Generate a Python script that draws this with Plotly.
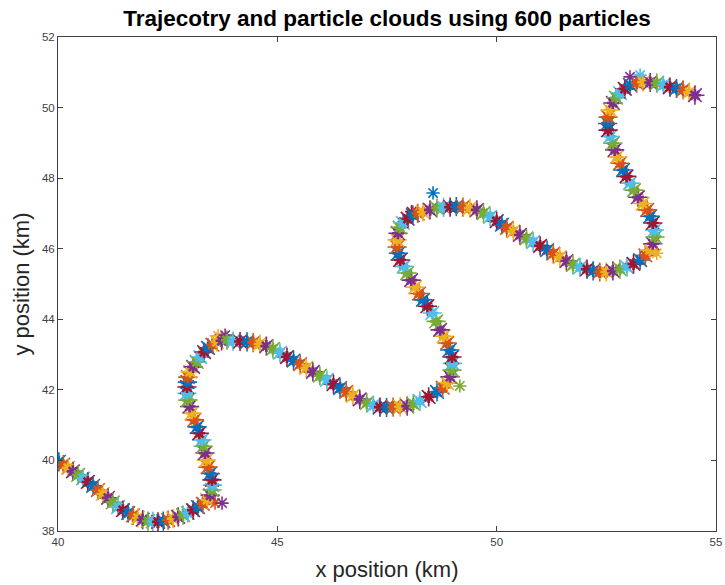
import plotly.graph_objects as go

# Trajectory (cloud centres), km
traj_x = [
    40.02, 40.12, 40.23, 40.34, 40.46, 40.57, 40.68, 40.80, 40.91, 41.02,
    41.14, 41.25, 41.37, 41.48, 41.60, 41.71, 41.82, 41.93, 42.05, 42.16,
    42.28, 42.40, 42.51, 42.62, 42.74, 42.85, 42.96, 43.08, 43.19, 43.30,
    43.40, 43.47, 43.51, 43.52, 43.51, 43.47, 43.42, 43.38, 43.35, 43.31,
    43.28, 43.22, 43.17, 43.11, 43.05, 43.00, 42.96, 42.94, 42.94, 42.95,
    42.96, 43.01, 43.08, 43.16, 43.24, 43.33, 43.42, 43.52, 43.62, 43.73,
    43.85,
    43.99, 44.15, 44.31, 44.45, 44.60, 44.75, 44.90, 45.06, 45.22, 45.37,
    45.52, 45.66, 45.81, 45.97, 46.13, 46.28, 46.43, 46.57, 46.72, 46.88,
    47.04, 47.19, 47.34, 47.49, 47.64, 47.80, 47.96, 48.10, 48.25, 48.45,
    48.64, 48.77, 48.87, 48.94, 48.98, 48.99, 48.98, 48.93, 48.87, 48.79,
    48.71, 48.62, 48.53, 48.42, 48.32, 48.23, 48.14, 48.05, 47.96, 47.88,
    47.80, 47.76, 47.73, 47.73, 47.75, 47.79, 47.86, 47.97, 48.09, 48.20,
    48.32, 48.48, 48.64, 48.79, 48.94, 49.08, 49.23, 49.39, 49.55, 49.70,
    49.85,
    50.00, 50.12, 50.23, 50.38, 50.53, 50.68, 50.83, 50.99, 51.15, 51.29,
    51.44, 51.59, 51.74, 51.90, 52.06, 52.20, 52.35, 52.50, 52.65, 52.81,
    52.97, 53.12, 53.27, 53.39, 53.49, 53.56, 53.61, 53.60, 53.56, 53.50,
    53.43, 53.33, 53.22, 53.13, 53.04, 52.96, 52.88, 52.81, 52.74, 52.69,
    52.65, 52.59, 52.54, 52.53, 52.54, 52.58, 52.65, 52.72, 52.81, 52.92,
    53.04, 53.19, 53.34, 53.50, 53.65, 53.80, 53.95, 54.10, 54.25, 54.39,
    54.52,
]
traj_y = [
    39.96, 39.88, 39.79, 39.69, 39.59, 39.49, 39.39, 39.28, 39.16, 39.05,
    38.94, 38.81, 38.68, 38.59, 38.51, 38.44, 38.37, 38.32, 38.28, 38.27,
    38.26, 38.28, 38.31, 38.35, 38.40, 38.45, 38.51, 38.59, 38.68, 38.77,
    38.88, 39.01, 39.16, 39.30, 39.45, 39.63, 39.81, 40.01, 40.21, 40.40,
    40.58, 40.77, 40.95, 41.15, 41.34, 41.53, 41.71, 41.90, 42.08, 42.22,
    42.36, 42.51, 42.65, 42.79, 42.93, 43.07, 43.19, 43.28, 43.36, 43.39,
    43.41,
    43.38, 43.37, 43.36, 43.34, 43.30, 43.24, 43.16, 43.05, 42.93, 42.83,
    42.73, 42.62, 42.51, 42.40, 42.28, 42.16, 42.05, 41.94, 41.83, 41.73,
    41.63, 41.56, 41.51, 41.50, 41.51, 41.52, 41.54, 41.60, 41.68, 41.80,
    41.94, 42.06, 42.19, 42.37, 42.56, 42.75, 42.93, 43.13, 43.33, 43.52,
    43.70, 43.94, 44.18, 44.37, 44.55, 44.73, 44.91, 45.11, 45.31, 45.50,
    45.68, 45.87, 46.05, 46.25, 46.44, 46.60, 46.73, 46.85, 46.95, 47.00,
    47.04, 47.10, 47.15, 47.17, 47.18, 47.19, 47.18, 47.15, 47.10, 47.01,
    46.90,
    46.78, 46.68, 46.59, 46.49, 46.39, 46.29, 46.19, 46.08, 45.96, 45.86,
    45.76, 45.65, 45.54, 45.47, 45.42, 45.37, 45.34, 45.34, 45.37, 45.42,
    45.48, 45.57, 45.68, 45.81, 45.96, 46.14, 46.33, 46.53, 46.73, 46.92,
    47.10, 47.28, 47.46, 47.66, 47.86, 48.05, 48.23, 48.42, 48.60, 48.80,
    48.99, 49.18, 49.36, 49.55, 49.73, 49.93, 50.13, 50.28, 50.41, 50.53,
    50.64, 50.69, 50.72, 50.71, 50.69, 50.64, 50.58, 50.54, 50.50, 50.43,
    50.35,
]

# Stray particles sticking out of the clouds, km
stray_x = [43.65, 43.81, 43.58, 43.74, 49.16, 48.55, 48.06, 47.89, 53.65, 53.27, 53.04]
stray_y = [43.53, 43.55, 38.79, 38.79, 42.11, 47.58, 47.05, 46.76, 45.87, 50.92, 50.87]
stray_c = [2, 3, 1, 3, 4, 0, 6, 3, 2, 5, 3]

x_ticks = [40, 45, 50, 55]
y_ticks = [38, 40, 42, 44, 46, 48, 50, 52]

cycle = ["#0072BD", "#D95319", "#EDB120", "#7E2F8E", "#77AC30", "#4DBEEE", "#A2142F"]
traj_cols = [cycle[i % 7] for i in range(len(traj_x))]

fig = go.Figure()
# outer (spread) particles of each cloud
fig.add_trace(go.Scatter(
    x=traj_x, y=traj_y, mode="markers",
    marker=dict(symbol="asterisk-open", size=16, color=traj_cols,
                line=dict(width=1.6, color=traj_cols)),
    showlegend=False, hoverinfo="skip"))
fig.add_trace(go.Scatter(
    x=stray_x, y=stray_y, mode="markers",
    marker=dict(symbol="asterisk-open", size=11,
                color=[cycle[c] for c in stray_c],
                line=dict(width=1.6, color=[cycle[c] for c in stray_c])),
    showlegend=False, hoverinfo="skip"))
# dense core of each cloud
fig.add_trace(go.Scatter(
    x=traj_x, y=traj_y, mode="markers",
    marker=dict(symbol="asterisk-open", size=10, color=traj_cols,
                line=dict(width=2.6, color=traj_cols)),
    showlegend=False, hoverinfo="skip"))

axis_common = dict(
    showgrid=False, zeroline=False, showline=True, linecolor="#404040", linewidth=1,
    mirror="ticks", ticks="inside", ticklen=5, tickcolor="#404040",
    tickfont=dict(family="Arial", size=11.5, color="#404040"),
)
fig.update_xaxes(range=[40, 55], tickvals=x_ticks, ticktext=[str(v) for v in x_ticks],
                 title=dict(text="x position (km)", standoff=14,
                            font=dict(family="Arial", size=22, color="#262626")),
                 **axis_common)
fig.update_yaxes(range=[38, 52], tickvals=y_ticks, ticktext=[str(v) for v in y_ticks],
                 title=dict(text="y position (km)", standoff=6,
                            font=dict(family="Arial", size=22, color="#262626")),
                 **axis_common)
fig.update_layout(
    width=725, height=585,
    margin=dict(l=58, r=9, t=37, b=54, autoexpand=False),
    paper_bgcolor="white", plot_bgcolor="white",
    title=dict(text="<b>Trajecotry and particle clouds using 600 particles</b>",
               x=387 / 725, xanchor="center", y=1 - 18 / 585, yanchor="middle",
               font=dict(family="Arial", size=22.5, color="black")),
)
fig.write_html("out.html")
